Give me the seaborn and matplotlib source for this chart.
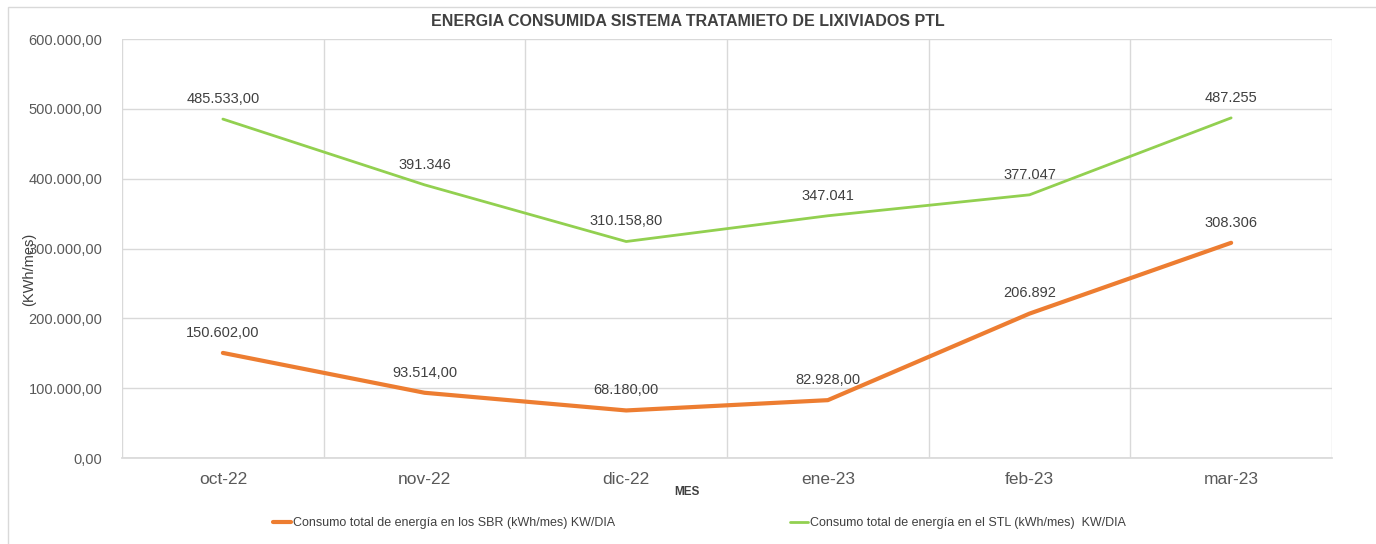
import pandas as pd
import numpy as np
import seaborn as sns
import matplotlib.pyplot as plt
from matplotlib.patches import Rectangle

# Data
meses = ['oct-22', 'nov-22', 'dic-22', 'ene-23', 'feb-23', 'mar-23']
sbr = [150602.00, 93514.00, 68180.00, 82928.00, 206892, 308306]
stl = [485533.00, 391346, 310158.80, 347041, 377047, 487255]
sbr_labels = ['150.602,00', '93.514,00', '68.180,00', '82.928,00', '206.892', '308.306']
stl_labels = ['485.533,00', '391.346', '310.158,80', '347.041', '377.047', '487.255']
serie_sbr = 'Consumo total de energía en los SBR (kWh/mes) KW/DIA'
serie_stl = 'Consumo total de energía en el STL (kWh/mes)  KW/DIA'

df = pd.DataFrame({
    'Mes': meses * 2,
    'Energia': sbr + stl,
    'Serie': [serie_sbr] * len(meses) + [serie_stl] * len(meses),
})

sns.set_theme(style='white')
plt.rcParams['font.family'] = ['Liberation Sans', 'DejaVu Sans']

fig = plt.figure(figsize=(13.76, 5.44), dpi=100)
ax = fig.add_axes([0.0887, 0.158, 0.8793, 0.770])

colores = {serie_sbr: '#ED7D31', serie_stl: '#92D050'}
sns.lineplot(data=df, x='Mes', y='Energia', hue='Serie', palette=colores,
             sort=False, ax=ax, legend=False)
for line, lw in zip(ax.get_lines(), [3, 2]):
    line.set_linewidth(lw)

# Data labels
for i, (v, t) in enumerate(zip(sbr, sbr_labels)):
    ax.annotate(t, (i, v), xytext=(0, 14.5), textcoords='offset points',
                ha='center', va='center', fontsize=10.5, color='#404040')
for i, (v, t) in enumerate(zip(stl, stl_labels)):
    ax.annotate(t, (i, v), xytext=(0, 14.5), textcoords='offset points',
                ha='center', va='center', fontsize=10.5, color='#404040')

ax.set_xlim(-0.5, len(meses) - 0.5)
ax.set_ylim(0, 600000)
ax.set_yticks(np.arange(0, 600001, 100000))
ax.set_yticklabels([f'{int(v):,}'.replace(',', '.') + ',00' for v in ax.get_yticks()])
ax.set_xticks(range(len(meses)))
ax.set_xticklabels(meses)
ax.set_xticks(np.arange(-0.5, len(meses)), minor=True)
ax.grid(True, which='minor', axis='x', color='#d9d9d9', linewidth=1)
ax.grid(True, which='major', axis='y', color='#d9d9d9', linewidth=1)
ax.tick_params(axis='y', labelsize=10.5, labelcolor='#595959', length=0, pad=14)
ax.tick_params(axis='x', labelsize=12.5, labelcolor='#595959', length=0, pad=10)
ax.tick_params(which='minor', length=0)
for s in ['top', 'right', 'left']:
    ax.spines[s].set_visible(False)
ax.spines['bottom'].set_color('#d9d9d9')
ax.set_xlabel('')
ax.set_ylabel('')

fig.text(0.5, 0.96, 'ENERGIA CONSUMIDA SISTEMA TRATAMIETO DE LIXIVIADOS PTL',
         ha='center', va='center', fontsize=11.5, fontweight='bold', color='#404040')
fig.text(0.499, 0.095, 'MES', ha='center', va='center', fontsize=8.5,
         fontweight='bold', color='#404040')
fig.text(0.021, 0.505, '(KWh/mes)', rotation=90, ha='center', va='center',
         fontsize=10.5, color='#404040')

# Legend
handles = [plt.Line2D([], [], color=colores[serie_sbr], linewidth=3),
           plt.Line2D([], [], color=colores[serie_stl], linewidth=2)]
fig.legend(handles, [serie_sbr, serie_stl], loc='center', bbox_to_anchor=(0.508, 0.038),
           ncol=2, frameon=False, fontsize=9, handlelength=1.5, handletextpad=0.1,
           columnspacing=14, labelcolor='#404040')

# Outer chart frame
fig.patches.append(Rectangle((0.006, -0.01), 1.0, 0.998, transform=fig.transFigure,
                             fill=False, edgecolor='#d9d9d9', linewidth=1))

fig.savefig('out.png', dpi=100)
